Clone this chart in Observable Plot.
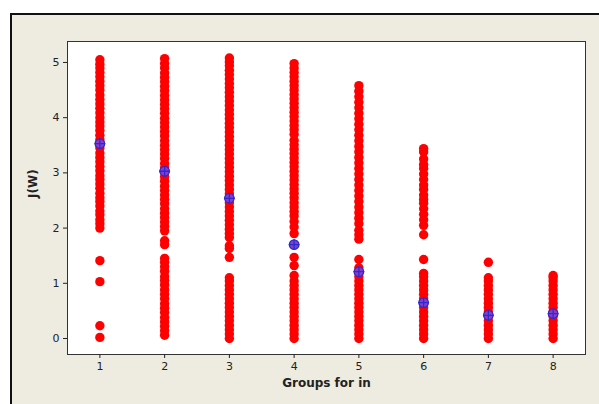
<!DOCTYPE html>
<html>
<head>
<meta charset="utf-8">
<script src="https://cdn.jsdelivr.net/npm/d3@7"></script>
<script src="https://cdn.jsdelivr.net/npm/@observablehq/plot@0.6"></script>
<style>
  html, body { margin: 0; padding: 0; background: #ffffff; }
  #wrap { position: relative; width: 599px; height: 404px; overflow: hidden; }
  #panel { position: absolute; left: 10px; top: 13px; right: -4px; bottom: -4px;
           background: #eeebe1; border-left: 2px solid #111; border-top: 2px solid #111; }
  #chart { position: absolute; left: 0; top: 0; }
</style>
</head>
<body>
<div id="wrap"><div id="panel"></div><div id="chart"></div></div>
<script>
const groupTicks = [1, 2, 3, 4, 5, 6, 7, 8];
const yTicks = [0, 1, 2, 3, 4, 5];

const group1 = [0.02, 0.23, 1.03, 1.41,
  2.00, 2.08, 2.15, 2.24, 2.31, 2.40, 2.48, 2.55, 2.63, 2.72, 2.80, 2.88, 2.95, 3.04, 3.12, 3.20,
  3.28, 3.36, 3.45, 3.52, 3.60, 3.68, 3.77, 3.85, 3.92, 4.00, 4.09, 4.17, 4.25, 4.33, 4.41, 4.50,
  4.58, 4.66, 4.74, 4.82, 4.90, 4.97, 5.05];
const group2 = [0.06, 0.14, 0.22, 0.30, 0.38, 0.47, 0.55, 0.63, 0.72, 0.80, 0.88, 0.97, 1.05, 1.12,
  1.22, 1.30, 1.38, 1.45, 1.70, 1.77,
  1.95, 2.03, 2.11, 2.19, 2.27, 2.35, 2.44, 2.52, 2.60, 2.68, 2.76, 2.85, 2.93, 3.01, 3.09, 3.17,
  3.26, 3.34, 3.42, 3.50, 3.58, 3.67, 3.75, 3.83, 3.91, 3.99, 4.08, 4.16, 4.24, 4.32, 4.40, 4.49,
  4.57, 4.65, 4.73, 4.81, 4.90, 4.98, 5.07];
const group3 = [0.00, 0.08, 0.16, 0.24, 0.32, 0.40, 0.48, 0.56, 0.64, 0.72, 0.80, 0.88, 0.96, 1.04, 1.10,
  1.47, 1.63, 1.68, 1.83, 1.90,
  1.98, 2.06, 2.14, 2.22, 2.30, 2.38, 2.46, 2.54, 2.62, 2.70, 2.78, 2.86, 2.94, 3.02, 3.10, 3.18,
  3.26, 3.34, 3.42, 3.50, 3.58, 3.66, 3.74, 3.82, 3.90, 3.98, 4.06, 4.14, 4.22, 4.30, 4.38, 4.46,
  4.54, 4.62, 4.70, 4.78, 4.86, 4.94, 5.01, 5.08];
const group4 = [0.00, 0.08, 0.16, 0.24, 0.32, 0.40, 0.48, 0.56, 0.64, 0.72, 0.80, 0.88, 0.96, 1.04,
  1.14, 1.32, 1.47, 1.90,
  2.02, 2.12, 2.22, 2.30, 2.38, 2.46, 2.55, 2.63, 2.71, 2.79, 2.87, 2.95, 3.03, 3.11, 3.19, 3.27,
  3.35, 3.43, 3.51, 3.59, 3.70, 3.78, 3.86, 3.94, 4.02, 4.10, 4.18, 4.26, 4.34, 4.42, 4.50, 4.58,
  4.66, 4.74, 4.82, 4.90, 4.98];
const group5 = [0.00, 0.08, 0.16, 0.24, 0.32, 0.40, 0.48, 0.56, 0.64, 0.72, 0.80, 0.88, 0.96, 1.04,
  1.12, 1.20, 1.28, 1.43, 1.80, 1.88, 1.96,
  2.08, 2.18, 2.28, 2.38, 2.48, 2.58, 2.68, 2.78, 2.88, 2.98, 3.08, 3.18, 3.28, 3.38, 3.48, 3.58,
  3.68, 3.78, 3.88, 3.98, 4.08, 4.18, 4.28, 4.38, 4.48, 4.58];
const group6 = [0.00, 0.08, 0.16, 0.24, 0.32, 0.40, 0.48, 0.56, 0.64, 0.72, 0.80, 0.88, 0.96, 1.04,
  1.12, 1.18, 1.43, 1.88,
  2.05, 2.15, 2.25, 2.35, 2.45, 2.52, 2.60, 2.70, 2.78, 2.88, 2.98, 3.08, 3.15, 3.25, 3.38, 3.44];
const group7 = [0.00, 0.08, 0.16, 0.24, 0.32, 0.40, 0.48, 0.56, 0.64, 0.72, 0.80, 0.88, 0.96, 1.04,
  1.10, 1.38];
const group8 = [0.00, 0.08, 0.16, 0.24, 0.32, 0.40, 0.48, 0.56, 0.64, 0.72, 0.80, 0.88, 0.96, 1.04,
  1.10, 1.14];
const groupMeans = [3.53, 3.03, 2.54, 1.70, 1.21, 0.65, 0.42, 0.45];

const allGroups = [group1, group2, group3, group4, group5, group6, group7, group8];
const points = allGroups.flatMap((vals, i) => vals.map(v => ({g: groupTicks[i], v})));
const means = groupMeans.map((m, i) => ({g: groupTicks[i], v: m}));

const chart = Plot.plot({
  width: 599,
  height: 404,
  marginLeft: 67,
  marginRight: 14,
  marginTop: 41,
  marginBottom: 50,
  style: {background: "transparent", fontFamily: "DejaVu Sans, sans-serif", fontSize: "11px", color: "#222"},
  x: {domain: [0.5, 8.5]},
  y: {domain: [-0.29, 5.38]},
  marks: [
    Plot.frame({fill: "white"}),
    Plot.dot(points, {x: "g", y: "v", r: 4.7, fill: "#ff0000"}),
    Plot.dot(means, {x: "g", y: "v", r: 4.8, fill: "#8a3cc8", stroke: "#2a2ad0", strokeWidth: 1.2}),
    Plot.dot(means, {x: "g", y: "v", r: 3.6, symbol: "plus", stroke: "#2a2ad0", strokeWidth: 1.3}),
    Plot.frame({stroke: "#333"}),
    Plot.axisX({ticks: groupTicks, tickFormat: d => String(d), tickSize: 4, tickPadding: 4, label: null}),
    Plot.axisY({ticks: yTicks, tickFormat: d => String(d), tickSize: 4, tickPadding: 4, label: null}),
    Plot.text(["Groups for in"], {frameAnchor: "bottom", dy: 32, fontWeight: "bold", fontSize: 12, fill: "#222"}),
    Plot.text(["J(W)"], {frameAnchor: "left", dx: -34, rotate: -90, fontWeight: "bold", fontSize: 12, fill: "#222"})
  ]
});
document.getElementById("chart").appendChild(chart);
</script>
</body>
</html>
